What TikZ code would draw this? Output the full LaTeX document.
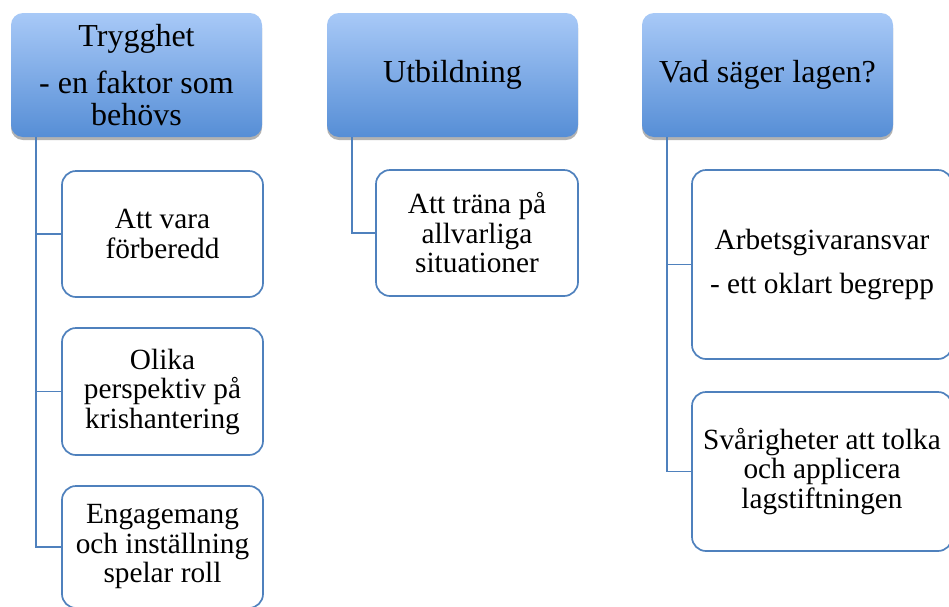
\documentclass[tikz,border=0pt]{standalone}
\usepackage{fontspec}
\setmainfont{Liberation Serif}
\newfontfamily\timesfam{Liberation Serif}
\usetikzlibrary{shadows}
\definecolor{hdrtop}{RGB}{168,201,247}
\definecolor{hdrbot}{RGB}{86,142,214}
\definecolor{edgeblue}{RGB}{79,129,189}
\tikzset{
  hdrbox/.style={rectangle, rounded corners=12pt, minimum width=251pt, minimum height=124pt,
    top color=hdrtop, bottom color=hdrbot, draw=none, align=center, inner sep=0pt,
    font=\timesfam\fontsize{32}{32}\selectfont,
    drop shadow={shadow xshift=0pt, shadow yshift=-3pt, opacity=0.3, fill=black}},
  childbox/.style={rectangle, rounded corners=14pt, draw=edgeblue, line width=1.7pt, fill=white,
    align=center, inner sep=0pt, font=\timesfam\fontsize{29.3}{29.5}\selectfont},
  conn/.style={draw=edgeblue, line width=1.9pt}
}
\begin{document}
\begin{tikzpicture}[x=1pt,y=-1pt]
\clip (0,0) rectangle (949,606);
\fill[white] (0,0) rectangle (949,606);
% headers
\node[hdrbox] (h1) at (136.5,75) {Trygghet\\[15pt]- en faktor som\\behövs};
\node[hdrbox] (h2) at (452.5,75) {Utbildning};
\node[hdrbox] (h3) at (767.5,75) {Vad säger lagen?};
% column 1
\node[childbox, minimum width=201pt, minimum height=126pt] (c11) at (162.5,234) {Att vara\\förberedd};
\node[childbox, minimum width=201pt, minimum height=127pt] (c12) at (162.5,391.5) {Olika\\perspektiv på\\krishantering};
\node[childbox, minimum width=201pt, minimum height=122pt] (c13) at (162.5,547) {Engagemang\\och inställning\\spelar roll};
% column 2
\node[childbox, minimum width=202pt, minimum height=126pt] (c21) at (477,233) {Att träna på\\allvarliga\\situationer};
% column 3
\node[childbox, minimum width=260pt, minimum height=189pt] (c31) at (822,264.5) {Arbetsgivaransvar\\[15pt]- ett oklart begrepp};
\node[childbox, minimum width=260pt, minimum height=159pt] (c32) at (822,471.5) {Svårigheter att tolka\\och applicera\\lagstiftningen};
% connectors
\draw[conn] ([xshift=25pt]h1.south west) |- (c11.west);
\draw[conn] ([xshift=25pt]h1.south west) |- (c12.west);
\draw[conn] ([xshift=25pt]h1.south west) |- (c13.west);
\draw[conn] ([xshift=25pt]h2.south west) |- (c21.west);
\draw[conn] ([xshift=25pt]h3.south west) |- (c31.west);
\draw[conn] ([xshift=25pt]h3.south west) |- (c32.west);
\end{tikzpicture}
\end{document}
